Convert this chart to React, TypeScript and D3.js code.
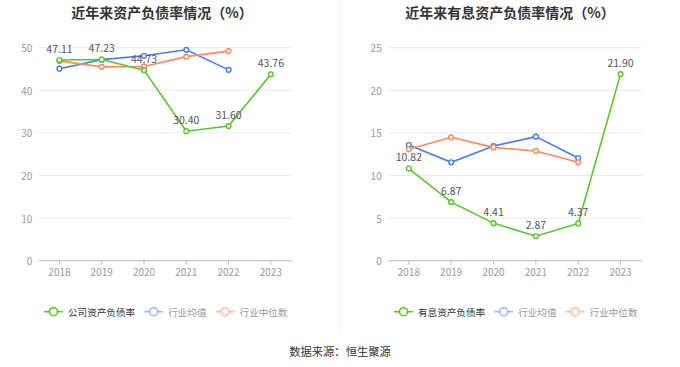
import React from "react";
import * as d3 from "d3";

const years = ["2018", "2019", "2020", "2021", "2022", "2023"];

const leftTitle = "近年来资产负债率情况（%）";
const leftSeriesNames = ["公司资产负债率", "行业均值", "行业中位数"];
const leftCompany = [47.11, 47.23, 44.73, 30.4, 31.6, 43.76];
const leftAvg = [45.07, 47.2, 48.1, 49.5, 44.8, null];
const leftMedian = [46.9, 45.5, 45.6, 47.9, 49.2, null];
const leftTicks = [0, 10, 20, 30, 40, 50];

const rightTitle = "近年来有息资产负债率情况（%）";
const rightSeriesNames = ["有息资产负债率", "行业均值", "行业中位数"];
const rightCompany = [10.82, 6.87, 4.41, 2.87, 4.37, 21.9];
const rightAvg = [13.58, 11.55, 13.46, 14.56, 12.05, null];
const rightMedian = [13.07, 14.48, 13.3, 12.88, 11.55, null];
const rightTicks = [0, 5, 10, 15, 20, 25];

const source = "数据来源：恒生聚源";

const GREEN = "#5bc42b";
const BLUE = "#4a7ceb";
const ORANGE = "#fd8a5e";
const FONT = "'Noto Sans CJK SC', 'Noto Sans', sans-serif";

type Vals = (number | null)[];

function Panel(props: {
  x0: number;
  x1: number;
  title: string;
  titleX: number;
  names: string[];
  company: Vals;
  avg: Vals;
  median: Vals;
  ticks: number[];
  legendX: number;
}) {
  const { x0, x1, title, titleX, names, company, avg, median, ticks, legendX } = props;
  const yTop = 47.7;
  const yBot = 260.7;
  const x = d3.scaleBand<string>().domain(years).range([x0, x1]);
  const cx = (i: number) => (x(years[i]) as number) + x.bandwidth() / 2;
  const y = d3.scaleLinear().domain([0, ticks[ticks.length - 1]]).range([yBot, yTop]);
  const line = d3
    .line<number | null>()
    .defined((d) => d !== null)
    .x((_, i) => cx(i))
    .y((d) => y(d as number));

  const series = [
    { vals: avg, color: BLUE },
    { vals: median, color: ORANGE },
    { vals: company, color: GREEN },
  ];

  const legendItems = [
    { name: names[0], color: GREEN, text: "#333" },
    { name: names[1], color: "#9db6f2", text: "#999" },
    { name: names[2], color: "#fdbca3", text: "#999" },
  ];
  let lx = legendX;
  const legendPos = legendItems.map((it) => {
    const p = lx;
    lx += 19 + 5 + it.name.length * 9.6 + 9;
    return p;
  });

  return (
    <g>
      <text
        x={titleX}
        y={11.5}
        textAnchor="middle"
        dominantBaseline="central"
        fontSize={14}
        fontWeight="bold"
        fill="#333"
        fontFamily={FONT}
      >
        {title}
      </text>
      {ticks.map((t) => (
        <g key={t}>
          {t !== 0 && (
            <line x1={x0} x2={x1} y1={y(t)} y2={y(t)} stroke="#e6ebf3" strokeWidth={1} />
          )}
          <text
            x={x0 - 6}
            y={y(t)}
            textAnchor="end"
            dominantBaseline="central"
            fontSize={10}
            fill="#999"
            fontFamily={FONT}
          >
            {t}
          </text>
        </g>
      ))}
      <line x1={x0} x2={x1} y1={yBot} y2={yBot} stroke="#bbb" strokeWidth={1} />
      {years.map((yr, i) => (
        <g key={yr}>
          <line x1={cx(i)} x2={cx(i)} y1={yBot} y2={yBot + 4} stroke="#bbb" />
          <text
            x={cx(i)}
            y={yBot + 11}
            textAnchor="middle"
            dominantBaseline="central"
            fontSize={10}
            fill="#999"
            fontFamily={FONT}
          >
            {yr}
          </text>
        </g>
      ))}
      {series.map((s, si) => (
        <g key={si}>
          <path d={line(s.vals) || ""} fill="none" stroke={s.color} strokeWidth={1.6} />
          {s.vals.map((v, i) =>
            v === null ? null : (
              <circle
                key={i}
                cx={cx(i)}
                cy={y(v)}
                r={2.4}
                fill="#fff"
                stroke={s.color}
                strokeWidth={1.4}
              />
            )
          )}
        </g>
      ))}
      {company.map((v, i) =>
        v === null ? null : (
          <text
            key={i}
            x={cx(i)}
            y={y(v) - 12}
            textAnchor="middle"
            dominantBaseline="central"
            fontSize={10.5}
            fill="#555"
            fontFamily={FONT}
          >
            {v.toFixed(2)}
          </text>
        )
      )}
      {legendItems.map((it, i) => (
        <g key={i}>
          <line
            x1={legendPos[i]}
            x2={legendPos[i] + 19}
            y1={311.7}
            y2={311.7}
            stroke={it.color}
            strokeWidth={1.6}
          />
          <circle
            cx={legendPos[i] + 9.5}
            cy={311.7}
            r={4}
            fill="#fff"
            stroke={it.color}
            strokeWidth={1.6}
          />
          <text
            x={legendPos[i] + 24}
            y={311.7}
            dominantBaseline="central"
            fontSize={9.6}
            fill={it.text}
            fontFamily={FONT}
          >
            {it.name}
          </text>
        </g>
      ))}
    </g>
  );
}

export default function App() {
  return (
    <svg
      width={680}
      height={367}
      style={{ position: "absolute", left: 0, top: 0, background: "#fff" }}
    >
      <rect width={680} height={367} fill="#fff" />
      <line x1={340.5} x2={340.5} y1={0} y2={330} stroke="#f0f0f0" strokeWidth={1} />
      <Panel
        x0={38.3}
        x1={292}
        title={leftTitle}
        titleX={162}
        names={leftSeriesNames}
        company={leftCompany}
        avg={leftAvg}
        median={leftMedian}
        ticks={leftTicks}
        legendX={44}
      />
      <Panel
        x0={387.7}
        x1={641.7}
        title={rightTitle}
        titleX={510}
        names={rightSeriesNames}
        company={rightCompany}
        avg={rightAvg}
        median={rightMedian}
        ticks={rightTicks}
        legendX={394}
      />
      <text
        x={340}
        y={351}
        textAnchor="middle"
        dominantBaseline="central"
        fontSize={11.3}
        fill="#333"
        fontFamily={FONT}
      >
        {source}
      </text>
    </svg>
  );
}
